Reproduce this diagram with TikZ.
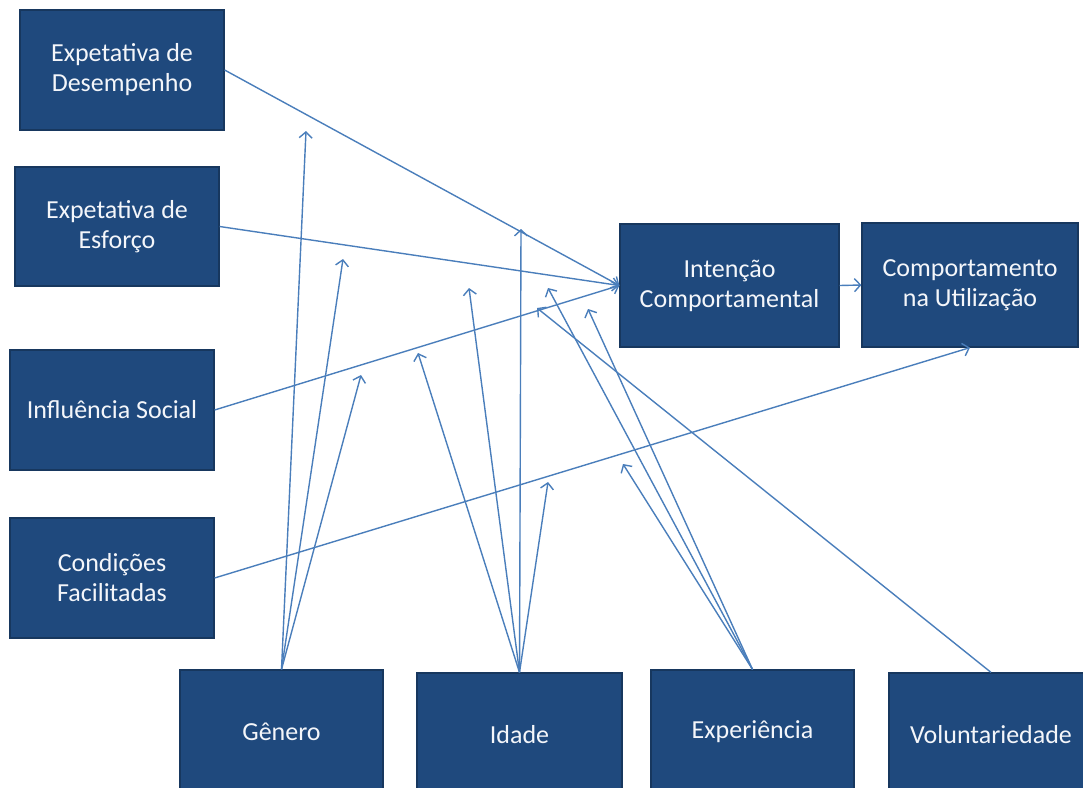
\documentclass[tikz,border=0pt]{standalone}
\usepackage{fontspec}
\setmainfont{Carlito}
\usetikzlibrary{arrows.meta}
\definecolor{boxfill}{HTML}{1F497D}
\definecolor{boxedge}{HTML}{17375E}
\definecolor{linkblue}{HTML}{4A7EBB}
\definecolor{boxtext}{HTML}{F4F6FA}
\begin{document}
\begin{tikzpicture}[x=1pt,y=-1pt,
  construct/.style={draw=boxedge,line width=1.2pt,fill=boxfill,text=boxtext,
    align=center,inner sep=0pt,
    font=\fontsize{26}{30}\selectfont},
  link/.style={draw=linkblue,line width=1.4pt,
    -{Straight Barb[length=6pt,width=13pt,line width=1.4pt]}}]
\useasboundingbox (0,0) rectangle (1083,787);
\begin{scope}
\clip (0,0) rectangle (1083,787);
% predictor constructs
\node[construct,minimum width=204,minimum height=120] (des) at (122,70) {Expetativa de\\Desempenho};
\node[construct,minimum width=204,minimum height=119] (esf) at (117,226.5) {Expetativa de\\Esforço};
\node[construct,minimum width=204,minimum height=120] (inf) at (112,410) {Influência Social};
\node[construct,minimum width=204,minimum height=120] (con) at (112,578) {Condições\\Facilitadas};
% outcome constructs
\node[construct,minimum width=219,minimum height=123] (int) at (729.5,285.5) {Intenção\\Comportamental};
\node[construct,minimum width=216,minimum height=124] (com) at (970,285) {Comportamento\\na Utilização};
% moderators
\node[construct,minimum width=203,minimum height=124] (gen) at (281.5,732) {Gênero};
\node[construct,minimum width=205,minimum height=124] (ida) at (519.5,735) {Idade};
\node[construct,minimum width=203,minimum height=124] (exp) at (752.5,732) {Experiência};
\node[construct,minimum width=204,minimum height=124] (vol) at (991,735) {Voluntariedade};
\end{scope}

% moderator arrow targets
\coordinate (g1) at (306,131);
\coordinate (g2) at (343,259);
\coordinate (g3) at (361,375);
\coordinate (i1) at (521,229);
\coordinate (i2) at (469,288);
\coordinate (i3) at (418,353);
\coordinate (i4) at (548,482);
\coordinate (e1) at (548,288);
\coordinate (e2) at (588,309);
\coordinate (e3) at (623,464);
\coordinate (v1) at (537,308);

% direct effects
\draw[link] (des.east) -- (int.west);
\draw[link] (esf.east) -- (int.west);
\draw[link] (inf.east) -- (int.west);
\draw[link] (con.east) -- (com.south);
\draw[link] (int.east) -- (com.west);

% moderating effects
\draw[link] (gen.north) -- (g1);
\draw[link] (gen.north) -- (g2);
\draw[link] (gen.north) -- (g3);
\draw[link] (ida.north) -- (i1);
\draw[link] (ida.north) -- (i2);
\draw[link] (ida.north) -- (i3);
\draw[link] (ida.north) -- (i4);
\draw[link] (exp.north) -- (e1);
\draw[link] (exp.north) -- (e2);
\draw[link] (exp.north) -- (e3);
\draw[link] (vol.north) -- (v1);
\end{tikzpicture}
\end{document}
